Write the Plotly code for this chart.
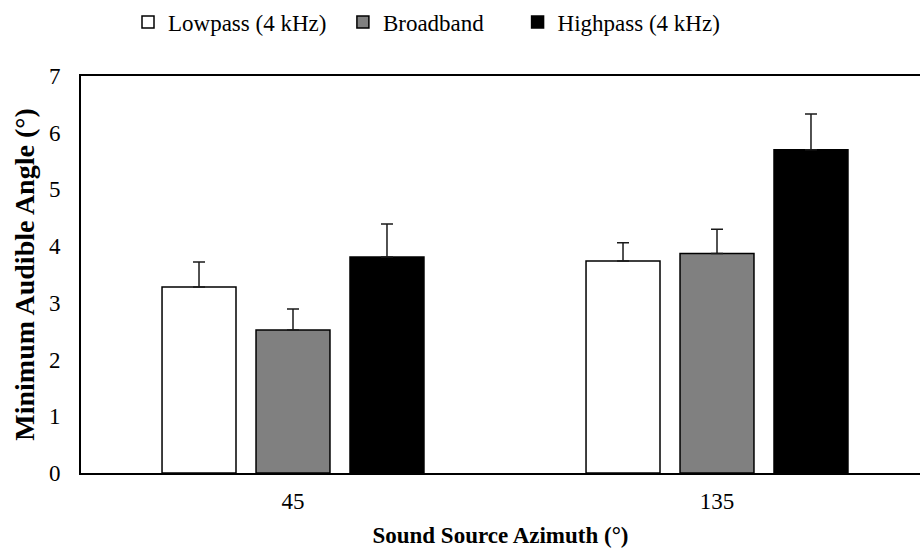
import plotly.graph_objects as go

categories = ["45", "135"]
series_names = ["Lowpass (4 kHz)", "Broadband", "Highpass (4 kHz)"]
lowpass = [3.28, 3.74]
broadband = [2.52, 3.87]
highpass = [3.81, 5.70]
lowpass_err = [0.44, 0.32]
broadband_err = [0.37, 0.43]
highpass_err = [0.58, 0.63]
y_ticks = [0, 1, 2, 3, 4, 5, 6, 7]

FONT = "Liberation Serif, Times New Roman, serif"
fills = ["#ffffff", "#808080", "#000000"]
pads = [2, 5, 0]
values = [lowpass, broadband, highpass]
errs = [lowpass_err, broadband_err, highpass_err]

fig = go.Figure()
for name, vals, err, col, pad in zip(series_names, values, errs, fills, pads):
    fig.add_trace(go.Bar(
        name=name + "\u00a0" * pad, x=categories, y=vals,
        marker=dict(color=col, line=dict(color="#000000", width=1.5)),
        error_y=dict(type="data", symmetric=False, array=err,
                     arrayminus=[0] * len(err), color="#1a1a1a",
                     thickness=1.5, width=6),
    ))

W, H = 920, 550
L, R, T, B = 81, 0, 76, 77
plot_w = W - L - R
band = 424.0

fig.update_layout(
    width=W, height=H,
    margin=dict(l=L, r=R, t=T, b=B, pad=0),
    paper_bgcolor="white", plot_bgcolor="white",
    barmode="group", bargap=0.335, bargroupgap=0.213,
    font=dict(family=FONT, size=23, color="#000000"),
    showlegend=True,
    legend=dict(orientation="h", xref="container", yref="container",
                x=128 / W, xanchor="left", y=1 - 22 / H, yanchor="middle",
                font=dict(family=FONT, size=23, color="#000000"),
                bgcolor="rgba(0,0,0,0)", itemclick=False),
    xaxis=dict(type="category", categoryorder="array", categoryarray=categories,
               range=[-0.5, -0.5 + plot_w / band],
               showline=True, linecolor="#000000", linewidth=2, mirror=True,
               ticks="", showgrid=False, zeroline=False,
               tickfont=dict(family=FONT, size=23),
               ticklabelstandoff=6,
               title=dict(text="<b>Sound Source Azimuth (°)</b>",
                          font=dict(family=FONT, size=23), standoff=14)),
    yaxis=dict(range=[0, 7], tickvals=y_ticks,
               showline=True, linecolor="#000000", linewidth=2, mirror=False,
               ticks="", showgrid=False, zeroline=False,
               tickfont=dict(family=FONT, size=23),
               ticklabelstandoff=14,
               title=dict(text="<b>Minimum Audible Angle (°)</b>",
                          font=dict(family=FONT, size=28), standoff=6)),
)

fig.write_html("out.html")
